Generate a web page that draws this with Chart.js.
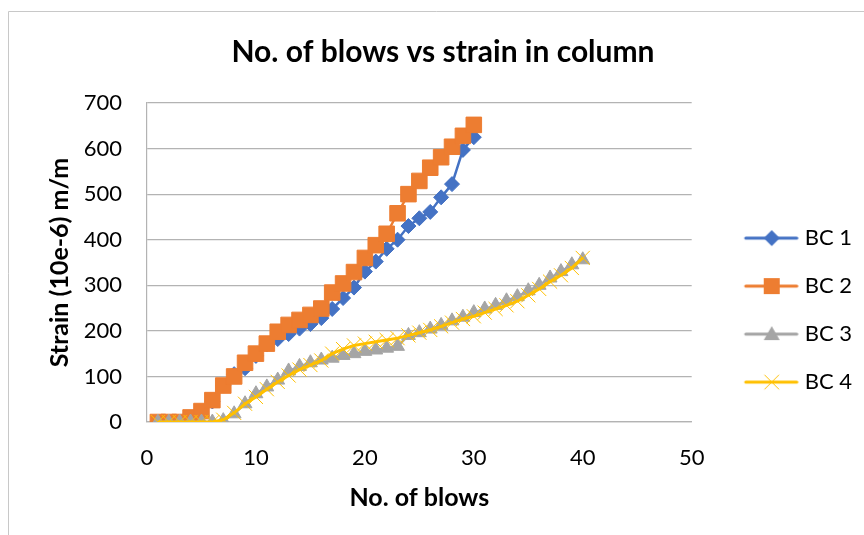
<!DOCTYPE html>
<html><head><meta charset="utf-8">
<script src="https://cdn.jsdelivr.net/npm/chart.js@4.4.1/dist/chart.umd.min.js"></script>
<style>html,body{margin:0;padding:0;background:#fff;overflow:hidden}</style>
</head><body>
<canvas id="c" width="864" height="535"></canvas>
<script>
const blows = [1,2,3,4,5,6,7,8,9,10,11,12,13,14,15,16,17,18,19,20,21,22,23,24,25,26,27,28,29,30,31,32,33,34,35,36,37,38,39,40];
const bc1 = [0,0,0,0,15,45,80,105,118,145,170,182,193,205,215,228,248,272,295,330,352,380,400,430,447,461,493,522,597,625];
const bc2 = [0,0,0,10,24,48,80,100,130,150,172,198,213,224,235,249,284,304,329,360,388,413,458,500,529,558,581,604,628,652];
const bc3 = [0,0,0,0,0,0,3,18,40,62,77,92,112,122,130,136,140,146,150,155,158,162,166,190,196,204,212,222,230,240,248,256,266,275,288,300,316,330,345,356];
const bc4 = [0,0,0,0,0,0,5,20,40,55,72,88,102,115,125,135,150,160,168,172,176,180,184,190,196,202,210,218,226,232,240,248,256,265,278,292,308,322,338,360];
const seriesNames = ['BC 1','BC 2','BC 3','BC 4'];
const xTicks = [0,10,20,30,40,50];
const yTicks = [0,100,200,300,400,500,600,700];

const colors = ['#4472C4','#ED7D31','#A5A5A5','#FFC000'];
const FONT = 'Lato, "Liberation Sans", sans-serif';

function pts(vals){ return vals.map((v,i)=>({x: blows[i], y: v})); }

function legendIcon(color, kind){
  const c = document.createElement('canvas'); c.width = 86; c.height = 24;
  const g = c.getContext('2d');
  g.strokeStyle = color; g.fillStyle = color; g.lineWidth = 3; g.lineCap = 'round';
  g.beginPath(); g.moveTo(33,12); g.lineTo(84,12); g.stroke();
  const cx = 59, cy = 12;
  g.lineWidth = 1;
  g.beginPath();
  if (kind==='diamond'){ g.moveTo(cx-8,cy); g.lineTo(cx,cy-8); g.lineTo(cx+8,cy); g.lineTo(cx,cy+8); g.closePath(); g.fill(); }
  else if (kind==='square'){ g.fillRect(cx-8,cy-8,16,16); }
  else if (kind==='triangle'){ g.moveTo(cx,cy-8); g.lineTo(cx+8,cy+6); g.lineTo(cx-8,cy+6); g.closePath(); g.fill(); }
  else { g.moveTo(cx-7,cy-7); g.lineTo(cx+7,cy+7); g.moveTo(cx+7,cy-7); g.lineTo(cx-7,cy+7); g.stroke(); }
  return c;
}
const icons = [legendIcon(colors[0],'diamond'),legendIcon(colors[1],'square'),legendIcon(colors[2],'triangle'),legendIcon(colors[3],'x')];

const frame = {
  id:'frame',
  beforeDraw(chart){
    const ctx = chart.ctx; ctx.save();
    ctx.fillStyle='#fff'; ctx.fillRect(0,0,chart.width,chart.height);
    ctx.strokeStyle='#c8c8c8'; ctx.lineWidth=1;
    ctx.beginPath(); ctx.moveTo(8.5,535); ctx.lineTo(8.5,11.5); ctx.lineTo(864,11.5); ctx.stroke();
    ctx.restore();
  }
};

new Chart(document.getElementById('c'), {
  type:'line',
  data:{ datasets:[
    {label:seriesNames[0], data:pts(bc1), borderColor:colors[0], backgroundColor:colors[0], borderWidth:2.5, pointStyle:'rectRot', pointRadius:7.5, pointBorderWidth:1, order:4},
    {label:seriesNames[1], data:pts(bc2), borderColor:colors[1], backgroundColor:colors[1], borderWidth:2.5, pointStyle:'rect', pointRadius:11, pointBorderWidth:1, order:3},
    {label:seriesNames[2], data:pts(bc3), borderColor:colors[2], backgroundColor:colors[2], borderWidth:2.5, pointStyle:'triangle', pointRadius:8, pointBorderWidth:1, order:2},
    {label:seriesNames[3], data:pts(bc4), borderColor:colors[3], backgroundColor:colors[3], borderWidth:3, pointStyle:'crossRot', pointRadius:10, pointBorderWidth:1, order:1}
  ]},
  options:{
    responsive:false, animation:false, devicePixelRatio:1,
    layout:{padding:{left:24,right:2,top:14,bottom:22}},
    plugins:{
      tooltip:{enabled:false},
      title:{display:true, text:'No. of blows vs strain in column', color:'#000', font:{family:FONT, size:30, weight:'bold'}, padding:{top:20,bottom:33}},
      legend:{position:'right', align:'center',
        title:{display:true, text:' ', font:{size:1}, padding:{top:0,bottom:92}},
        labels:{usePointStyle:true, pointStyleWidth:76, padding:26, color:'#000', font:{family:FONT,size:22},
          generateLabels:(chart)=>chart.data.datasets.map((ds,i)=>({text:ds.label, pointStyle:icons[i], fillStyle:ds.borderColor, strokeStyle:ds.borderColor, lineWidth:0, hidden:false, datasetIndex:i, fontColor:'#000'}))
        }
      }
    },
    scales:{
      x:{type:'linear', min:0, max:50,
        afterBuildTicks:(s)=>{ s.ticks = xTicks.map(v=>({value:v})); },
        afterFit:(s)=>{ s.height = 91; },
        grid:{display:false, drawTicks:false},
        border:{display:true, color:'#b3b3b3', width:1.2},
        ticks:{color:'#000', font:{family:FONT,size:22}, padding:23, maxRotation:0},
        title:{display:true, text:'No. of blows', color:'#000', font:{family:FONT,size:25,weight:'bold'}, padding:{top:0,bottom:0}}
      },
      y:{type:'linear', min:0, max:700,
        afterBuildTicks:(s)=>{ s.ticks = yTicks.map(v=>({value:v})); },
        afterFit:(s)=>{ s.width = 123; },
        grid:{color:'#b3b3b3', lineWidth:1.2, drawTicks:false},
        border:{display:true, color:'#b3b3b3', width:1.2},
        ticks:{color:'#000', font:{family:FONT,size:22}, padding:25},
        title:{display:true, text:'Strain (10e-6) m/m', color:'#000', font:{family:FONT,size:25,weight:'bold'}, padding:{top:21,bottom:0}}
      }
    }
  },
  plugins:[frame]
});
</script>
</body></html>
